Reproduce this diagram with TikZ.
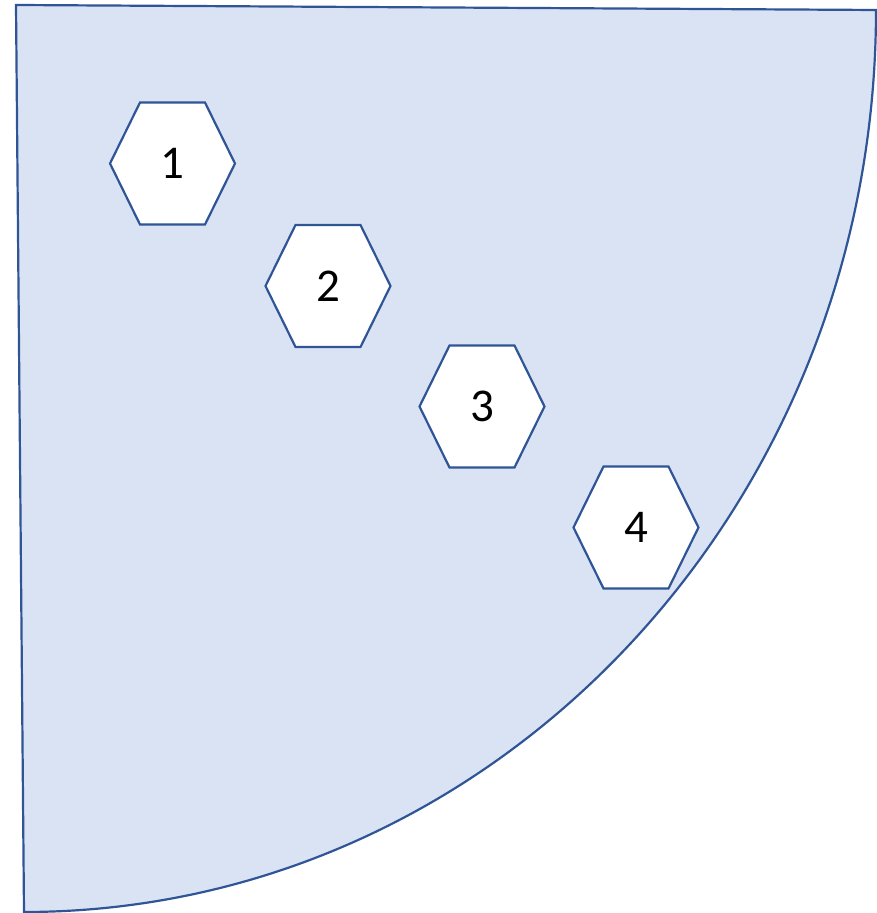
\documentclass[tikz,border=0pt]{standalone}
\usepackage{fontspec}
\setmainfont{Carlito}
\usetikzlibrary{calc}
\definecolor{edge}{HTML}{2F5597}
\definecolor{fillb}{HTML}{DAE3F3}
\tikzset{
  outline/.style={draw=edge, line width=2.2pt, fill=fillb, line join=miter},
  hexagon/.style={draw=edge, line width=2.2pt, fill=white},
  lbl/.style={font=\fontsize{47}{56}\selectfont, inner sep=0pt}
}
\newcommand{\hexnode}[4]{%
  \coordinate (#1c) at (#2,#3);
  \draw[hexagon] ($(#1c)+(-62.5,0)$) -- ($(#1c)+(-32.5,61)$) -- ($(#1c)+(32.5,61)$)
     -- ($(#1c)+(62.5,0)$) -- ($(#1c)+(32.5,-61)$) -- ($(#1c)+(-32.5,-61)$) -- cycle;
  \node[lbl] (#1) at (#1c) {#4};
}
\begin{document}
\begin{tikzpicture}[x=1pt,y=1pt]
\useasboundingbox (0,0) rectangle (877,913);
\coordinate (tl) at (16,908);
\coordinate (tr) at (876,903);
\draw[outline] (tl) -- (tr) arc[start angle=0, end angle=-90, x radius=852, y radius=902] -- cycle;
\hexnode{h1}{172.5}{749.5}{1}
\hexnode{h2}{328}{627}{2}
\hexnode{h3}{482}{506.5}{3}
\hexnode{h4}{636}{385.5}{4}
\end{tikzpicture}
\end{document}
